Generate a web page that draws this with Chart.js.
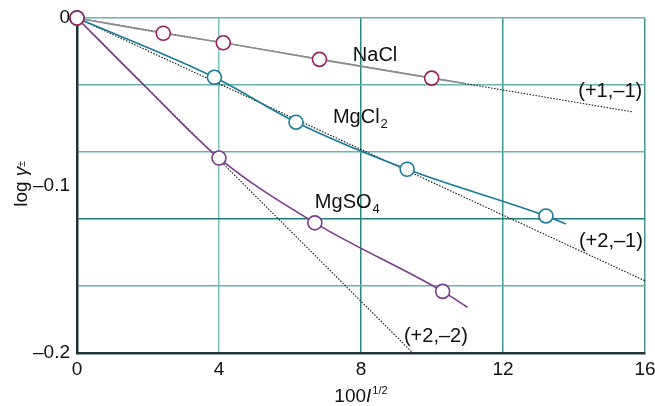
<!DOCTYPE html>
<html>
<head>
<meta charset="utf-8">
<script src="https://cdn.jsdelivr.net/npm/chart.js@4/dist/chart.umd.min.js"></script>
<style>
  html, body { margin: 0; padding: 0; background: #fff; }
  #chart { display: block; }
</style>
</head>
<body>
<canvas id="chart" width="655" height="406"></canvas>
<script>
// axis ticks
const xTicks = [0, 4, 8, 12, 16]
const yTicks = [0, -0.04, -0.08, -0.1, -0.12, -0.16, -0.2]
const yTickLabels = ['0', '', '', '\u20130.1', '', '', '\u20130.2']

// measured points (100 I^1/2, log gamma)
const naclX = [0, 2.43, 4.12, 6.83, 9.99]
const naclY = [0, -0.0091, -0.0148, -0.0247, -0.0359]
const mgcl2X = [0, 3.87, 6.17, 9.30, 13.21]
const mgcl2Y = [0, -0.0354, -0.0622, -0.0903, -0.1182]
const mgso4X = [0, 4.0, 6.70, 10.30]
const mgso4Y = [0, -0.0836, -0.1223, -0.1632]

// drawn curves (same points plus where each line stops)
const naclCurveX = [0, 2.43, 4.12, 6.83, 9.99, 10.9]
const naclCurveY = [0, -0.0091, -0.0148, -0.0247, -0.0359, -0.0390]
const mgcl2CurveX = [0, 3.87, 6.17, 9.30, 13.21, 13.77]
const mgcl2CurveY = [0, -0.0354, -0.0622, -0.0903, -0.1182, -0.1230]
const mgso4CurveX = [0, 1.88, 4.0, 6.70, 10.30, 11.0]
const mgso4CurveY = [0, -0.0400, -0.0836, -0.1223, -0.1632, -0.1727]

// Debye-Hückel limiting lines (start and end)
const limit11X = [0, 15.66]
const limit11Y = [0, -0.0561]
const limit21X = [0, 16]
const limit21Y = [0, -0.1569]
const limit22X = [0, 9.46]
const limit22Y = [0, -0.2]

const toPoints = (xs, ys) => xs.map((x, i) => ({ x: x, y: ys[i] }))

const FONT = '"Liberation Sans", Arial, Helvetica, sans-serif'
const NACL_COLOR = '#9a1c5c'
const MGCL2_COLOR = '#17799b'
const MGSO4_COLOR = '#7b3b8e'

const markers = (label, pts, color) => ({
  label: label,
  data: pts,
  showLine: false,
  pointRadius: 7,
  pointBorderWidth: 1.6,
  pointBorderColor: color,
  pointBackgroundColor: '#fff',
  clip: false
})

const curve = (label, pts, color) => ({
  label: label,
  data: pts,
  showLine: true,
  borderColor: color,
  borderWidth: 1.6,
  pointRadius: 0,
  cubicInterpolationMode: 'monotone',
  clip: false
})

const limit = (label, pts) => ({
  label: label,
  data: pts,
  showLine: true,
  borderColor: '#111',
  borderWidth: 1.1,
  borderDash: [1.5, 1.5],
  pointRadius: 0,
  clip: false
})

// series names and charge labels, placed in data units
const textLabels = [
  { text: 'NaCl', x: 7.77, y: -0.0259, align: 'left' },
  { text: 'MgCl', sub: '2', x: 7.21, y: -0.0629, align: 'left' },
  { text: 'MgSO', sub: '4', x: 6.70, y: -0.1136, align: 'left' },
  { text: '(+1,\u20131)', x: 15.92, y: -0.0474, align: 'right' },
  { text: '(+2,\u20131)', x: 15.94, y: -0.1367, align: 'right' },
  { text: '(+2,\u20132)', x: 9.21, y: -0.1933, align: 'left' }
]

const labelPlugin = {
  id: 'labels',
  afterDraw(chart) {
    const ctx = chart.ctx
    const xs = chart.scales.x
    const ys = chart.scales.y
    ctx.save()
    ctx.fillStyle = '#111'
    ctx.textBaseline = 'alphabetic'
    textLabels.forEach((l) => {
      ctx.font = '20px ' + FONT
      let px = xs.getPixelForValue(l.x)
      const py = ys.getPixelForValue(l.y)
      const w = ctx.measureText(l.text).width
      ctx.font = '13px ' + FONT
      const sw = l.sub ? ctx.measureText(l.sub).width + 1 : 0
      if (l.align === 'right') px -= w + sw
      ctx.font = '20px ' + FONT
      ctx.textAlign = 'left'
      ctx.fillText(l.text, px, py)
      if (l.sub) {
        ctx.font = '13px ' + FONT
        ctx.fillText(l.sub, px + w + 1, py + 5)
      }
    })

    // x axis title: 100 I^1/2
    const area = chart.chartArea
    ctx.font = '19px ' + FONT
    const w1 = ctx.measureText('100').width
    ctx.font = 'italic 19px ' + FONT
    const w2 = ctx.measureText('I').width
    ctx.font = '11px ' + FONT
    const w3 = ctx.measureText('1/2').width
    let tx = (area.left + area.right) / 2 - (w1 + w2 + w3 + 1) / 2
    const ty = 402
    ctx.font = '19px ' + FONT
    ctx.fillText('100', tx, ty)
    tx += w1
    ctx.font = 'italic 19px ' + FONT
    ctx.fillText('I', tx, ty)
    tx += w2 + 1
    ctx.font = '11px ' + FONT
    ctx.fillText('1/2', tx, ty - 8)

    // y axis title: log gamma±
    ctx.translate(27, 184)
    ctx.rotate(-Math.PI / 2)
    ctx.font = '19px ' + FONT
    const a1 = ctx.measureText('log ').width
    ctx.font = 'italic 19px ' + FONT
    const a2 = ctx.measureText('\u03b3').width
    ctx.font = '10px ' + FONT
    const a3 = ctx.measureText('\u00b1').width
    let ry = -(a1 + a2 + a3) / 2
    ctx.font = '19px ' + FONT
    ctx.fillText('log ', ry, 0)
    ry += a1
    ctx.font = 'italic 19px ' + FONT
    ctx.fillText('\u03b3', ry, 0)
    ry += a2
    ctx.font = '10px ' + FONT
    ctx.fillText('\u00b1', ry, -2)
    ctx.restore()
  }
}

const xGridColor = (v) => {
  if (v === 0) return 'rgba(0,0,0,0)'
  if (v === 8) return '#2b8985'
  if (v === 4) return '#7dc0bc'
  return '#3f9794'
}
const yGridColor = (v) => {
  if (v === -0.1 || v === -0.2) return 'rgba(0,0,0,0)'
  if (v === -0.12) return '#1f7d7a'
  return '#66b3af'
}

document.addEventListener('DOMContentLoaded', () => {
  const canvas = document.getElementById('chart')

  new Chart(canvas, {
    type: 'scatter',
    data: {
      datasets: [
        markers('NaCl', toPoints(naclX, naclY), NACL_COLOR),
        markers('MgCl2', toPoints(mgcl2X, mgcl2Y), MGCL2_COLOR),
        markers('MgSO4', toPoints(mgso4X, mgso4Y), MGSO4_COLOR),
        curve('NaCl fit', toPoints(naclCurveX, naclCurveY), '#8c8c8c'),
        curve('MgCl2 fit', toPoints(mgcl2CurveX, mgcl2CurveY), MGCL2_COLOR),
        curve('MgSO4 fit', toPoints(mgso4CurveX, mgso4CurveY), MGSO4_COLOR),
        limit('(+1,-1)', toPoints(limit11X, limit11Y)),
        limit('(+2,-1)', toPoints(limit21X, limit21Y)),
        limit('(+2,-2)', toPoints(limit22X, limit22Y))
      ]
    },
    options: {
      responsive: false,
      animation: false,
      layout: { padding: { top: 18, right: 10, left: 0, bottom: 0 } },
      plugins: {
        legend: { display: false },
        tooltip: { enabled: false }
      },
      scales: {
        x: {
          type: 'linear',
          min: 0,
          max: 16,
          afterBuildTicks: (scale) => { scale.ticks = xTicks.map((v) => ({ value: v })) },
          afterFit: (scale) => {
            scale.height = 53
            scale.paddingLeft = 0
            scale.paddingRight = 0
          },
          ticks: {
            padding: 5,
            color: '#111',
            font: { family: FONT, size: 19 },
            maxRotation: 0,
            callback: (v) => String(v)
          },
          grid: {
            drawTicks: false,
            lineWidth: 1.5,
            color: (ctx) => xGridColor(ctx.tick ? ctx.tick.value : null)
          },
          border: { color: '#1f3535', width: 2.5 }
        },
        y: {
          type: 'linear',
          min: -0.2,
          max: 0,
          afterBuildTicks: (scale) => { scale.ticks = yTicks.map((v) => ({ value: v })) },
          afterFit: (scale) => {
            scale.width = 77
            scale.paddingTop = 0
            scale.paddingBottom = 0
          },
          ticks: {
            padding: 7,
            color: '#111',
            font: { family: FONT, size: 19 },
            callback: (v) => {
              const i = yTicks.indexOf(v)
              return i >= 0 ? yTickLabels[i] : ''
            }
          },
          grid: {
            drawTicks: false,
            lineWidth: 1.5,
            color: (ctx) => yGridColor(ctx.tick ? ctx.tick.value : null)
          },
          border: { color: '#1f3535', width: 2.5 }
        }
      }
    },
    plugins: [labelPlugin]
  })
})
</script>
</body>
</html>
